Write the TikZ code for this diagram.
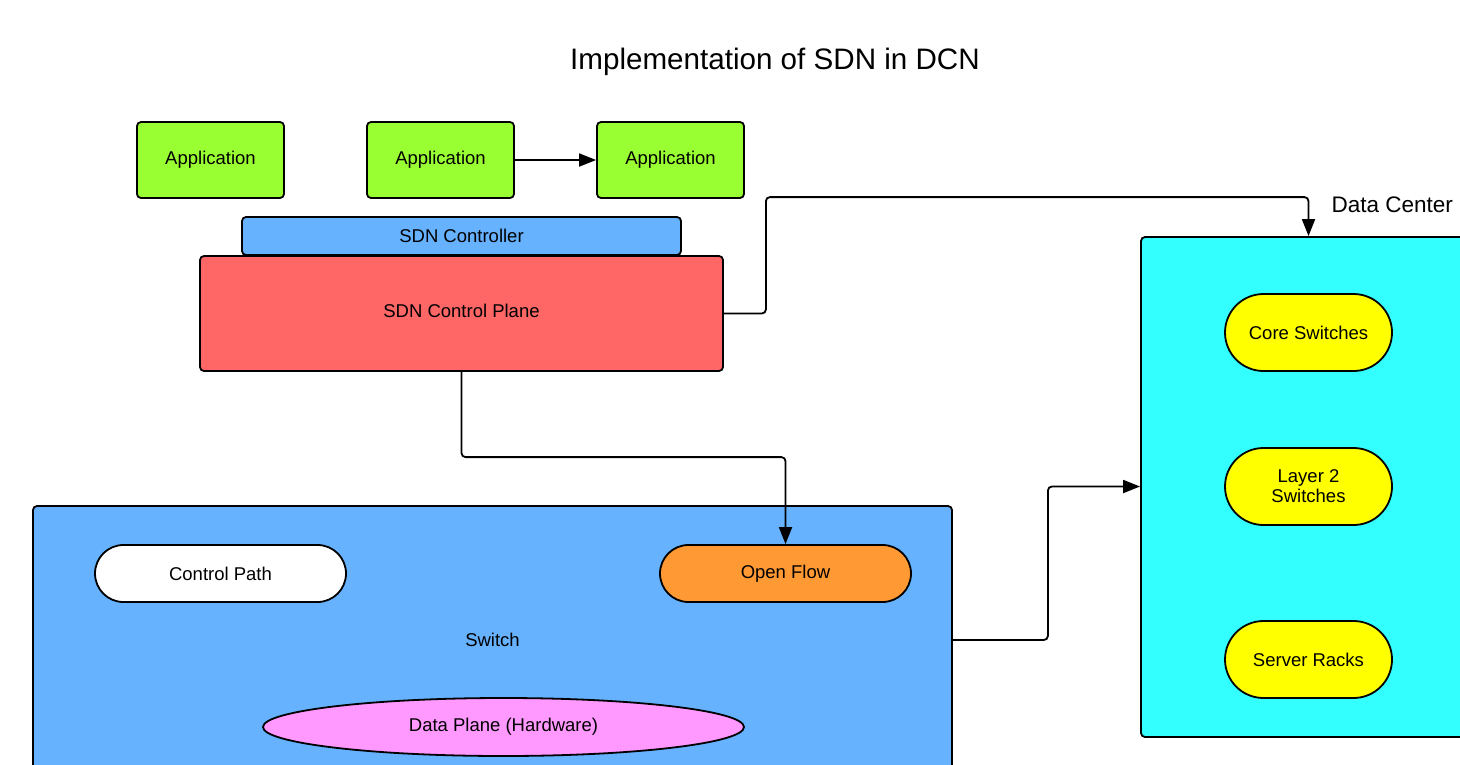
\documentclass[tikz,border=0pt]{standalone}
\usepackage{fontspec}
\setmainfont{Liberation Sans}
\usetikzlibrary{arrows.meta,calc,shapes.geometric}

\definecolor{appgreen}{HTML}{99FF33}
\definecolor{ctrlblue}{HTML}{66B2FF}
\definecolor{planered}{HTML}{FF6666}
\definecolor{dccyan}{HTML}{33FFFF}
\definecolor{swyellow}{HTML}{FFFF00}
\definecolor{ofOrange}{HTML}{FF9933}
\definecolor{dpPink}{HTML}{FF99FF}

\begin{document}
\begin{tikzpicture}[x=1pt,y=-1pt,
  txt/.style={font=\fontsize{18.5}{22}\selectfont},
  box/.style={draw=black, line width=1.8pt, rounded corners=4pt, inner sep=0pt, txt, align=center},
  pill/.style={draw=black, line width=1.8pt, inner sep=0pt, txt, align=center},
  conn/.style={draw=black, line width=1.8pt, rounded corners=4pt, -{Triangle[length=17pt,width=13pt]}}
]
\useasboundingbox (0,0) rectangle (1460,764);
\clip (0,0) rectangle (1460,764);
\fill[white] (0,0) rectangle (1460,764);

% title
\node[font=\fontsize{29.6}{34}\selectfont] (title) at (775,62) {Implementation of SDN in DCN};

% applications
\node[box, fill=appgreen, minimum width=147pt, minimum height=76pt] (app1) at (210.5,160) {Application};
\node[box, fill=appgreen, minimum width=147pt, minimum height=76pt] (app2) at (440.5,160) {Application};
\node[box, fill=appgreen, minimum width=147pt, minimum height=76pt] (app3) at (670.5,160) {Application};

% controller and control plane
\node[box, fill=ctrlblue, minimum width=439pt, minimum height=38pt] (ctrl) at (461.5,236) {SDN Controller};
\node[box, fill=planered, minimum width=523pt, minimum height=115pt] (cp) at (461.5,313.5) {};
\node[txt] (cplabel) at (461.5,311) {SDN Control Plane};

% switch
\node[box, fill=ctrlblue, minimum width=919pt, minimum height=320pt] (sw) at (492.5,666) {};
\node[txt] (swlabel) at (492.5,640) {Switch};
\node[pill, fill=white, rounded corners=28.5pt, minimum width=251pt, minimum height=57pt] (cpath) at (220.5,573.5) {Control Path};
\node[pill, fill=ofOrange, rounded corners=28.5pt, minimum width=251pt, minimum height=57pt] (of) at (785.5,573.5) {Open Flow};
\node[pill, fill=dpPink, ellipse, minimum width=481pt, minimum height=58pt] (dp) at (503.5,727) {Data Plane (Hardware)};

% data center
\node[box, fill=dccyan, minimum width=360pt, minimum height=500pt] (dc) at (1321,487) {};
\node[font=\fontsize{22.5}{26}\selectfont, anchor=west] (dclabel) at (1328,205) {Data Center};
\node[pill, fill=swyellow, rounded corners=38.5pt, minimum width=167pt, minimum height=77pt] (core) at (1308.5,332.5) {Core Switches};
\node[pill, fill=swyellow, rounded corners=38.5pt, minimum width=167pt, minimum height=77pt] (l2) at (1308.5,486.5) {Layer 2\\[-2pt]Switches};
\node[pill, fill=swyellow, rounded corners=38.5pt, minimum width=167pt, minimum height=77pt] (racks) at (1308.5,659.5) {Server Racks};

% connectors
\draw[conn] (app2.east) -- (app3.west);
\draw[conn] (cp.east) -- ++(42,0) |- ($(core |- dc.north)+(0,-39)$) -- (core |- dc.north);
\draw[conn] (cp.south) |- ($(of.north)+(0,-87)$) -- (of.north);
\draw[conn] (swlabel -| sw.east) -- ++(95,0) |- (l2 -| dc.west);
\end{tikzpicture}
\end{document}
